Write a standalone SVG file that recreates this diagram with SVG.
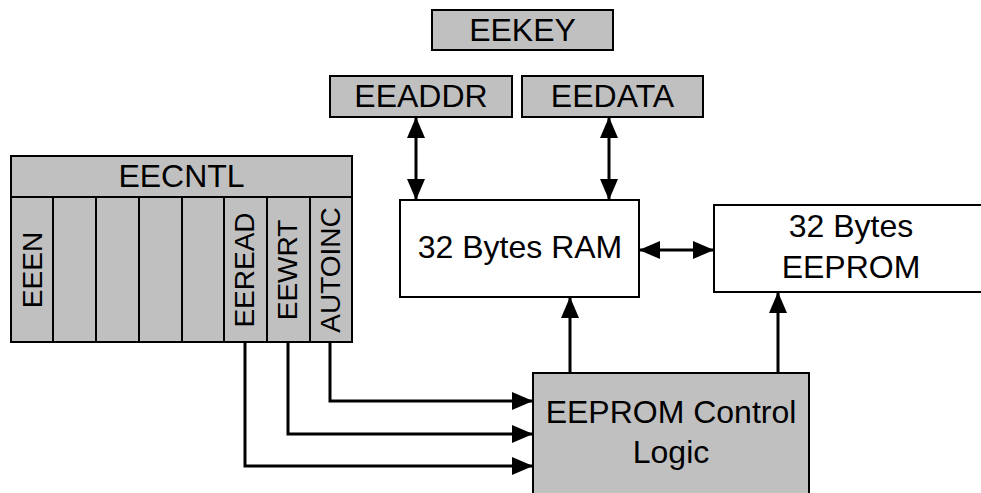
<svg xmlns="http://www.w3.org/2000/svg" width="981" height="493" viewBox="0 0 981 493">
<style>
.g{fill:#c0c0c0;stroke:#000;stroke-width:2}
.w{fill:#fff;stroke:#000;stroke-width:2}
.d{fill:none;stroke:#000;stroke-width:2}
.t{font-family:"Liberation Sans",Arial,sans-serif;font-size:32px;fill:#000;text-anchor:middle}
.v{font-family:"Liberation Sans",Arial,sans-serif;font-size:28px;fill:#000;text-anchor:middle}
.c{fill:none;stroke:#000;stroke-width:3}
</style>
<defs>
<marker id="ah" markerUnits="userSpaceOnUse" markerWidth="21" markerHeight="18" refX="20" refY="9" orient="auto-start-reverse" viewBox="0 0 21 18">
<path d="M0,0 L21,9 L0,18 z" fill="#000"/>
</marker>
</defs>
<g id="eekey"><rect class="g" x="432" y="10" width="181" height="40"/><text class="t" x="522.5" y="41">EEKEY</text></g>
<g id="eeaddr"><rect class="g" x="330" y="76" width="182" height="41"/><text class="t" x="421" y="107">EEADDR</text></g>
<g id="eedata"><rect class="g" x="522" y="76" width="181" height="41"/><text class="t" x="612.5" y="107">EEDATA</text></g>
<g id="eecntl">
<rect class="g" x="11" y="156" width="341" height="186"/>
<line class="d" x1="11" y1="197" x2="352" y2="197"/>
<path class="d" d="M53,197V342M96,197V342M139,197V342M182,197V342M224,197V342M267,197V342M310,197V342"/>
<text class="t" x="181.5" y="187">EECNTL</text>
<text class="v" transform="translate(42,270) rotate(-90)">EEEN</text>
<text class="v" transform="translate(254,270) rotate(-90)">EEREAD</text>
<text class="v" transform="translate(297,270) rotate(-90)">EEWRT</text>
<text class="v" transform="translate(340,270) rotate(-90)">AUTOINC</text>
</g>
<g id="ram"><rect class="w" x="400" y="200" width="239" height="97"/><text class="t" x="520" y="258">32 Bytes RAM</text></g>
<g id="eeprom"><rect class="w" x="714" y="205" width="280" height="87"/><text class="t" x="851" y="237">32 Bytes</text><text class="t" x="851" y="278">EEPROM</text></g>
<g id="control"><rect class="g" x="533" y="373" width="276" height="130"/><text class="t" x="671" y="423">EEPROM Control</text><text class="t" x="671" y="463">Logic</text></g>
<g id="connectors">
<line class="c" x1="416" y1="118" x2="416" y2="199" marker-start="url(#ah)" marker-end="url(#ah)"/>
<line class="c" x1="609" y1="118" x2="609" y2="199" marker-start="url(#ah)" marker-end="url(#ah)"/>
<line class="c" x1="640" y1="250" x2="713" y2="250" marker-start="url(#ah)" marker-end="url(#ah)"/>
<line class="c" x1="570" y1="373" x2="570" y2="298" marker-end="url(#ah)"/>
<line class="c" x1="778" y1="373" x2="778" y2="293" marker-end="url(#ah)"/>
<path class="c" d="M330,342V401H532" marker-end="url(#ah)"/>
<path class="c" d="M288,342V434H532" marker-end="url(#ah)"/>
<path class="c" d="M245,342V466H532" marker-end="url(#ah)"/>
</g>
</svg>
